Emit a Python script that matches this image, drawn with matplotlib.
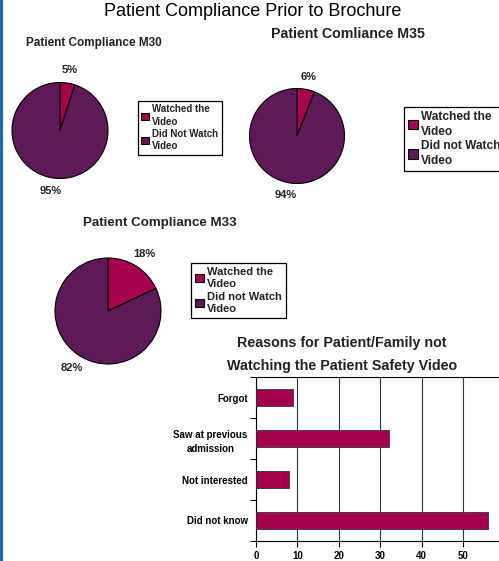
import numpy as np
import matplotlib
matplotlib.use('Agg')
import matplotlib.pyplot as plt
from matplotlib.lines import Line2D

plt.rcParams['font.family'] = ['Liberation Sans', 'DejaVu Sans']

# Pie data (percent)
pie_titles = ['Patient Compliance M30', 'Patient Comliance M35', 'Patient Compliance M33']
pie_values = [[5, 95], [6, 94], [18, 82]]
pie_legends = [['Watched the\nVideo', 'Did Not Watch\nVideo'],
               ['Watched the\nVideo', 'Did not Watch\nVideo'],
               ['Watched the\nVideo', 'Did not Watch\nVideo']]

# Bar data
reasons = ['Forgot', 'Saw at previous\nadmission', 'Not interested', 'Did not know']
counts = [9, 32, 8, 56]
bar_ticks = [0, 10, 20, 30, 40, 50]

W, H = 499, 561
C_WATCH = '#A6004F'
C_NOT = '#5E1957'

fig = plt.figure(figsize=(W / 100, H / 100), dpi=100)
fig.patch.set_facecolor('white')


def px_axes(left, top, width, height):
    return fig.add_axes([left / W, (H - top - height) / H, width / W, height / H])


# blue strip on left edge
fig.add_artist(Line2D([1 / W, 1 / W], [1 / H, 1], color='#1A6BB0', lw=2.2))

fig.text(253 / W, 1 - 12 / H, 'Patient Compliance Prior to Brochure',
         ha='center', va='center', fontsize=13)

# pie layout: centre and radius in px, title position/size, legend corner/size
pie_geo = [
    dict(c=(60, 130.5), r=48, t=(94, 43), ts=8.5, leg=(138, 101), ls=7.0, pd=1.28),
    dict(c=(297, 136), r=47.5, t=(348, 34), ts=10.2, leg=(404, 107), ls=8.6, pd=1.27),
    dict(c=(108, 311), r=53, t=(160, 223), ts=9.6, leg=(191, 263), ls=8.0, pd=1.28),
]

for title, vals, labs, g in zip(pie_titles, pie_values, pie_legends, pie_geo):
    cx, cy = g['c']
    size = 2.5 * g['r']
    ax = px_axes(cx - size / 2, cy - size / 2, size, size)
    wedges, texts, autotexts = ax.pie(
        vals, colors=[C_WATCH, C_NOT], startangle=90, counterclock=False,
        autopct='%1.0f%%', pctdistance=g['pd'],
        wedgeprops=dict(edgecolor='black', linewidth=0.8))
    for t in autotexts:
        t.set_fontsize(8)
        t.set_fontweight('bold')
        t.set_color('#222222')
    fig.text(g['t'][0] / W, 1 - g['t'][1] / H, title, ha='center', va='center',
             fontsize=g['ts'], fontweight='bold', color='#222222')
    leg = fig.legend(wedges, labs, loc='upper left',
                     bbox_to_anchor=(g['leg'][0] / W, 1 - g['leg'][1] / H),
                     prop=dict(size=g['ls'], weight='bold'), frameon=True,
                     fancybox=False, edgecolor='black', framealpha=1,
                     handlelength=0.8, handleheight=0.8, handletextpad=0.3,
                     borderpad=0.35, labelspacing=0.2, borderaxespad=0)
    leg.get_frame().set_linewidth(0.9)
    for t in leg.get_texts():
        t.set_linespacing(1.3)
        t.set_color('#222222')

# bar chart
ax = px_axes(256, 377, 248.5, 164)
y = np.arange(len(reasons))
ax.barh(y, counts, height=0.42, color='#A5004E', edgecolor='#333333', linewidth=0.6, zorder=3)
ax.set_ylim(len(reasons) - 0.5, -0.5)
ax.set_xlim(0, 60)
ax.set_xticks(bar_ticks)
ax.set_xticklabels([str(t) for t in bar_ticks], fontsize=7, fontweight='bold')
ax.set_yticks(y)
ax.set_yticklabels(reasons, fontsize=7, fontweight='bold')
for t in ax.get_yticklabels():
    t.set_multialignment('center')
    t.set_linespacing(1.5)
ax.tick_params(axis='y', which='major', length=0, pad=6)
ax.set_yticks(np.arange(len(reasons) + 1) - 0.5, minor=True)
ax.tick_params(axis='y', which='minor', length=4, direction='out', width=0.8)
ax.tick_params(axis='x', length=4, width=0.8, pad=3)
ax.xaxis.grid(True, color='#333333', linewidth=0.8, zorder=0)
ax.set_axisbelow(True)
for s in ['left', 'bottom', 'top']:
    ax.spines[s].set_color('black')
    ax.spines[s].set_linewidth(0.8)
ax.spines['right'].set_visible(False)

fig.text(342 / W, 1 - 343 / H, 'Reasons for Patient/Family not', ha='center', va='center',
         fontsize=10.3, fontweight='bold', color='#222222')
fig.text(342 / W, 1 - 366 / H, 'Watching the Patient Safety Video', ha='center', va='center',
         fontsize=10.3, fontweight='bold', color='#222222')

fig.savefig('out.png', dpi=100)
